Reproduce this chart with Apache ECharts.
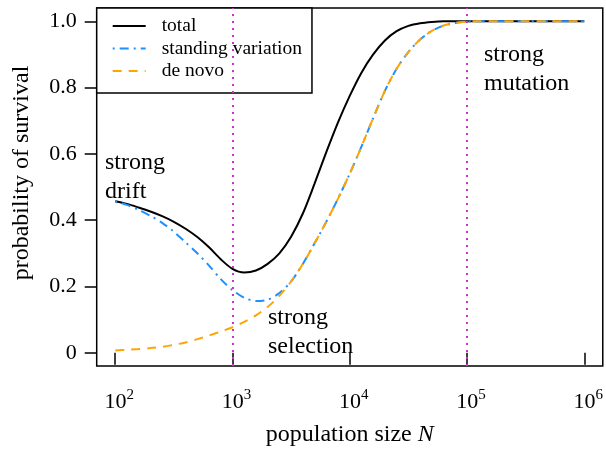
<!DOCTYPE html>
<html>
<head>
<meta charset="utf-8">
<script src="https://cdn.jsdelivr.net/npm/echarts@6/dist/echarts.min.js"></script>
<style>
    html, body { margin: 0; padding: 0; background: #fff; }
    #chart { width: 606px; height: 452px; }
</style>
</head>
<body>
<div id="chart"></div>
<script>
    // log10 of population size N
    var logN = [2.0, 2.1, 2.2, 2.3, 2.4, 2.5, 2.6, 2.7, 2.8, 2.9,
        3.0, 3.1, 3.2, 3.3, 3.4, 3.5, 3.6, 3.7, 3.8, 3.9,
        4.0, 4.1, 4.2, 4.3, 4.4, 4.5, 4.6, 4.7, 4.8, 4.9,
        5.0, 5.1, 5.2, 5.3, 5.4, 5.5, 5.6, 5.7, 5.8, 5.9, 6.0];
    var total = [0.457, 0.449, 0.438, 0.426, 0.412, 0.395, 0.374, 0.349, 0.318, 0.282,
        0.253, 0.242, 0.248, 0.268, 0.300, 0.350, 0.420, 0.510, 0.605, 0.695,
        0.775, 0.845, 0.900, 0.942, 0.970, 0.986, 0.994, 0.998, 1, 1,
        1, 1, 1, 1, 1, 1, 1, 1, 1, 1, 1];
    var standing = [0.457, 0.446, 0.431, 0.413, 0.392, 0.365, 0.333, 0.300, 0.263, 0.222,
        0.189, 0.166, 0.156, 0.160, 0.180, 0.215, 0.268, 0.330, 0.395, 0.465,
        0.540, 0.622, 0.708, 0.790, 0.857, 0.907, 0.945, 0.971, 0.987, 0.995,
        0.999, 1, 1, 1, 1, 1, 1, 1, 1, 1, 1];
    var deNovo = [0.007, 0.009, 0.011, 0.014, 0.018, 0.024, 0.031, 0.041, 0.052, 0.064,
        0.077, 0.093, 0.113, 0.138, 0.172, 0.215, 0.268, 0.330, 0.395, 0.465,
        0.540, 0.622, 0.708, 0.790, 0.857, 0.907, 0.945, 0.971, 0.987, 0.995,
        0.999, 1, 1, 1, 1, 1, 1, 1, 1, 1, 1];
    var xTicks = [2, 3, 4, 5, 6];
    var yTicks = [0, 0.2, 0.4, 0.6, 0.8, 1];
    var regimeLines = [3, 5];//strong selection / strong mutation borders

    var font = 'Liberation Serif';

    function pairs(xs, ys) {
        var out = [];
        for (var i = 0, j = xs.length; i < j; i++) {
            out.push([xs[i], ys[i]]);
        }
        return out;
    }

    function curve(name, values, color, dash, width) {
        return {
            name: name,
            type: 'line',
            data: pairs(logN, values),
            smooth: 0.3,
            symbol: 'none',
            silent: true,
            lineStyle: { color: color, width: width, type: dash }
        };
    }

    var totalSeries = curve('total', total, '#000000', 'solid', 2);
    totalSeries.markLine = {
        silent: true,
        symbol: 'none',
        label: { show: false },
        lineStyle: { color: '#CC33CC', type: [2, 5], width: 2 },
        data: regimeLines.map(function (v) { return { xAxis: v }; })
    };

    var annotation = function (text, x, y) {
        return {
            type: 'text', x: x, y: y, silent: true,
            style: { text: text, fill: '#000', font: '24px "' + font + '"', lineHeight: 29, verticalAlign: 'top' }
        };
    };

    var chart = echarts.init(document.getElementById('chart'));
    chart.setOption({
        animation: false,
        backgroundColor: '#fff',
        grid: {
            left: 96.7, right: 0.5, top: 8, bottom: 83.5,
            show: true, borderColor: '#000', borderWidth: 1.5, backgroundColor: 'transparent'
        },
        legend: {
            data: ['total', 'standing variation', 'de novo'],
            orient: 'vertical',
            left: 96.7, top: 8,
            padding: [8, 10, 12, 15],
            itemWidth: 33, itemHeight: 20, itemGap: 2.5,
            borderColor: '#000', borderWidth: 1.5,
            backgroundColor: '#fff',
            selectedMode: false,
            itemStyle: { opacity: 0 },
            textStyle: { fontFamily: font, fontSize: 19.5, color: '#000', lineHeight: 20, padding: [0, 0, 0, 11] }
        },
        xAxis: {
            type: 'value',
            min: 1.842, max: 6.158,
            name: 'population size {i|N}',
            nameLocation: 'middle',
            nameGap: 57,
            nameTextStyle: {
                fontFamily: font, fontSize: 24, color: '#000',
                rich: { i: { fontFamily: font, fontSize: 24, fontStyle: 'italic', color: '#000' } }
            },
            splitLine: { show: false },
            axisLine: { show: false },
            axisTick: { show: true, customValues: xTicks, length: 12, lineStyle: { color: '#000', width: 1.5 } },
            axisLabel: {
                customValues: xTicks,
                margin: 25,
                formatter: function (v) { return '{b|10}{s|' + v + '}'; },
                rich: {
                    b: { fontFamily: font, fontSize: 22, lineHeight: 22, color: '#000', verticalAlign: 'bottom', padding: [0, 0, 0, 8] },
                    s: { fontFamily: font, fontSize: 15, lineHeight: 15, color: '#000', verticalAlign: 'bottom', padding: [0, 0, 10, 0] }
                }
            }
        },
        yAxis: {
            type: 'value',
            min: -0.04, max: 1.04,
            splitLine: { show: false },
            axisLine: { show: false },
            axisTick: { show: true, customValues: yTicks, length: 12, lineStyle: { color: '#000', width: 1.5 } },
            axisLabel: {
                customValues: yTicks,
                margin: 20,
                fontFamily: font, fontSize: 22, color: '#000',
                formatter: function (v) { return v == 0 ? '0' : v.toFixed(1); }
            }
        },
        graphic: [
            {
                type: 'text', x: 22, y: 173, rotation: Math.PI / 2, silent: true,
                style: { text: 'probability of survival', fill: '#000', font: '24px "' + font + '"', align: 'center', verticalAlign: 'middle' }
            },
            annotation('strong\ndrift', 105, 148),
            annotation('strong\nselection', 268, 303),
            annotation('strong\nmutation', 484, 40)
        ],
        series: [
            totalSeries,
            curve('standing variation', standing, '#1E90FF', [2, 5, 9, 5], 2),
            curve('de novo', deNovo, '#FFA500', [9, 7], 2)
        ]
    });
</script>
</body>
</html>
